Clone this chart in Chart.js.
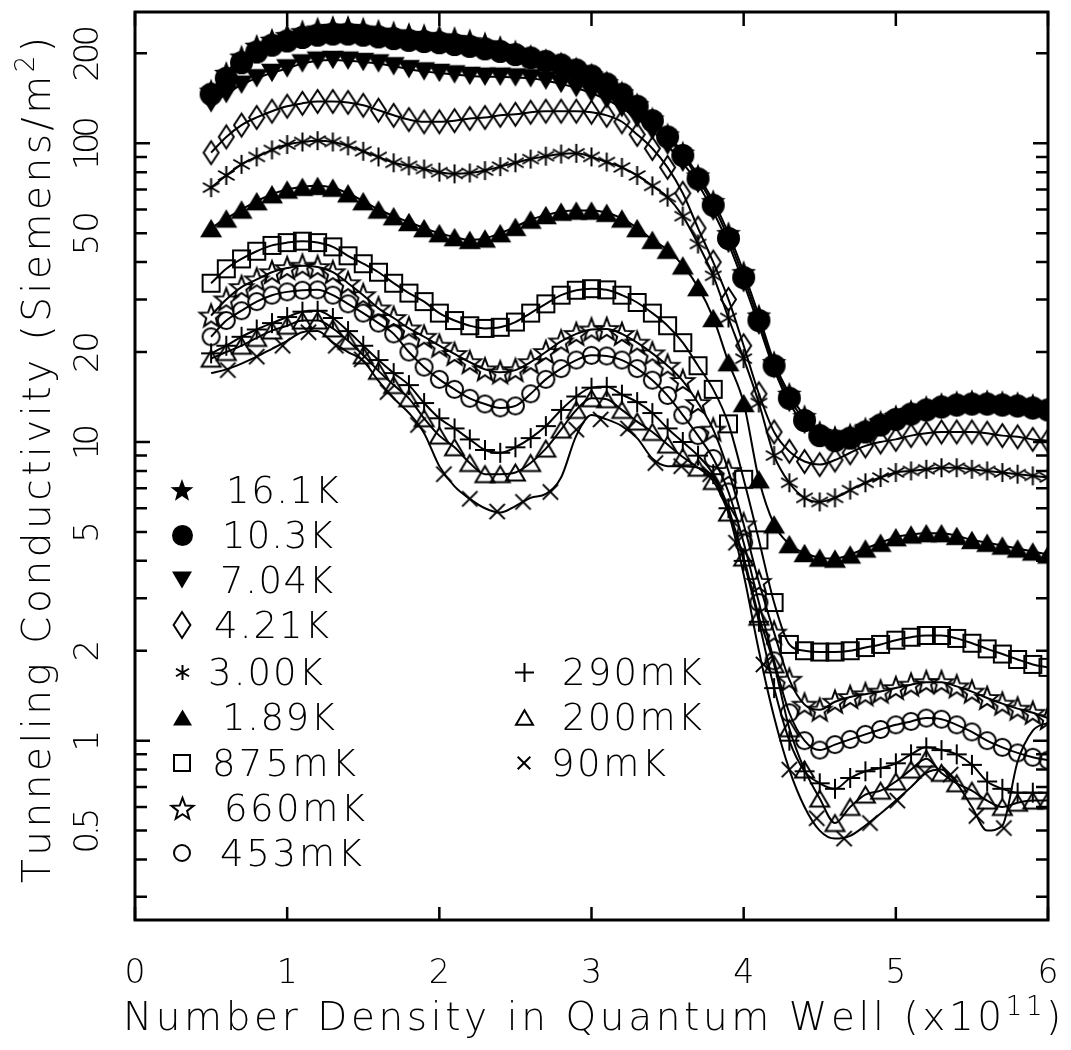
<!DOCTYPE html>
<html>
<head>
<title>Tunneling Conductivity</title>
<script src="https://cdn.jsdelivr.net/npm/chart.js"></script>
<style>
    html, body { margin:0; padding:0; background:#fff; }
    canvas { display:block; }
</style>
</head>
<body>
<canvas id="wykres" width="1071" height="1050"></canvas>
<script>
// number density in the well (x10^11), common sampling of all series
const gestosc = [0.5,0.6,0.7,0.8,0.9,1.0,1.1,1.2,1.3,1.4,1.5,1.6,1.7,1.8,1.9,2.0,2.1,2.2,2.3,2.4,
                 2.5,2.6,2.7,2.8,2.9,3.0,3.1,3.2,3.3,3.4,3.5,3.6,3.7,3.8,3.9,4.0,4.1,4.2,4.3,4.4,
                 4.5,4.6,4.7,4.8,4.9,5.0,5.1,5.2,5.3,5.4,5.5,5.6,5.7,5.8,5.9,6.0];

// tunneling conductivity (Siemens/m^2)
const k161 = [150,172,195,212,222,230,237,242,245,245, 242,238,235,232,230,228,225,221,216,210,
              203,196,190,185,178,170,160,148,135,121, 107,93,78,64,50,37,26.5,18.5,14.5,12.2,
              10.8,10.4,10.6,11.1,11.7,12.2,12.7,13.1,13.4,13.6, 13.7,13.7,13.6,13.5,13.3,13.1];
const k103 = [146,165,186,202,213,220,226,230,232,232, 230,227,224,221,219,217,214,211,207,203,
              198,193,188,183,176,168,158,146,133,119, 105,91,76,62,48,35.5,25.5,18,14,11.8,
              10.5,10.1,10.3,10.8,11.4,11.9,12.4,12.8,13.1,13.3, 13.4,13.4,13.3,13.2,13.0,12.8];
const k704 = [136,146,157,165,172,178,185,189,190,189, 187,185,181,177,174,172,170,168,167,167,
              166,165,162,158,153,147,140,131,121,110, 98,86,73,59,46,34,24.5,17.5,13.5,11.4,
              10.3,10.0,10.2,10.7,11.2,11.7,12.1,12.5,12.8,13.0, 13.1,13.1,13.0,12.9,12.7,12.5];
const k421 = [93,105,115,122,128,133,136,138,138,137, 134,129,124,120,118,118,119,121,122,124,
              125,127,128,128,128,127,124,118,107,96, 83,68,52,40,30,21,14.5,10.8,9.3,8.6,
              8.4,8.7,9.2,9.7,10.0,10.2,10.5,10.7,10.8,10.8, 10.8,10.7,10.5,10.4,10.2,10.1];
const k300 = [71,78,85,90,95,99,101,102,101,98, 94,90,86,84,82,80,79,79.5,81,83.5,
              86,88.5,90.5,92,92.5,90,86.5,83,78,72, 66,57,46,36,26,19,13.5,9.0,7.3,6.5,
              6.3,6.5,6.9,7.3,7.6,7.9,8.0,8.1,8.2,8.2, 8.1,8.0,7.9,7.8,7.7,7.6];
const k189 = [52,56,60,64,67.5,70,71.5,72,71,68, 64,60,57,54.5,52,50,48.5,47.5,48,50,
              52.5,55.5,57.5,59,59.5,59.5,58.5,56,52,47.5, 44,39,33,26,18.5,13.5,7.5,5.3,4.55,4.25,
              4.1,4.07,4.2,4.4,4.6,4.8,4.9,4.95,4.95,4.85, 4.7,4.6,4.5,4.4,4.3,4.2];
const m875 = [34,38,41,43.5,45.5,46.5,47,46.5,45,42, 39.5,37,34,31.5,29.5,27,25.5,24.5,24,24.2,
              25.2,27,29,31,32.2,32.6,32.3,31,29.3,27, 24.5,21.5,18,15,11.5,7.5,4.7,2.9,2.1,2.0,
              1.98,1.98,2.0,2.05,2.1,2.17,2.22,2.25,2.25,2.2, 2.12,2.03,1.95,1.87,1.8,1.76];
const m660 = [26.5,30,33,35,37,38.2,38.9,38.5,37,34, 31,28,26,24,22.5,21,19.7,18.5,17.5,17.1,
              17.4,18.5,20,21.7,23,23.8,23.9,23,21.5,19.8, 18,16,13.5,11,8,5.3,3.4,2.3,1.6,1.32,
              1.27,1.35,1.4,1.43,1.46,1.5,1.54,1.57,1.57,1.52, 1.46,1.39,1.33,1.28,1.24,1.19];
const m453 = [22.5,25.5,27.5,29.5,31,31.8,32.2,32.3,31,29, 27,25,23,20,17.8,16.2,15,14,13.4,13,
              13.2,14.5,16.2,17.6,18.8,19.5,19.4,18.8,17.6,16.1, 14.3,12.3,10.5,8.8,6.8,4.6,2.9,1.85,1.24,1.0,
              0.93,0.97,1.01,1.05,1.09,1.13,1.16,1.19,1.18,1.13, 1.07,1.0,0.95,0.91,0.88,0.86];
const m290 = [19.8,21,22.5,23.8,25,26.2,27.3,27.5,26,23.5, 21,18.8,17,15.5,13.5,12,11.1,10.2,9.4,9.2,
              9.6,10.3,11.3,12.8,14.2,15.2,15.3,14.4,13.6,12.5, 11.1,10.0,9.0,7.8,6.0,4.0,2.5,1.5,1.0,0.79,
              0.72,0.69,0.75,0.79,0.81,0.84,0.9,0.95,0.93,0.9, 0.83,0.73,0.69,0.67,0.67,0.67];
const m200 = [19,20,21,22.3,23.6,24.5,25.5,25.5,24,21.8, 19.5,17.3,15.5,14,12,10.5,9.6,8.5,7.8,7.8,
              7.9,8.5,9.5,11,12.8,14.0,13.9,12.8,11.7,10.8, 9.8,8.9,8.2,7.4,5.8,4.1,2.6,1.8,1.1,0.8,
              0.64,0.53,0.6,0.66,0.68,0.73,0.8,0.87,0.78,0.72, 0.68,0.63,0.6,0.62,0.63,0.63];
// 90 mK: fitted curve on the common grid, measured points are sparser
const m90linia = [17,17.5,18.3,19.3,20.5,21.8,23.3,23.5,21.5,20, 18.7,16,14,12.5,10.7,8.3,7.1,6.45,6.0,5.8,
                  6.1,6.5,6.7,7.6,10.5,12.3,11.9,11.3,10.3,8.8, 8.3,8.3,8.2,7.6,5.8,3.6,2.0,1.2,0.8,0.6,
                  0.5,0.47,0.48,0.52,0.57,0.63,0.7,0.78,0.8,0.72, 0.6,0.5,0.52,0.85,1.08,1.15];
const m90x = [0.61,0.8,0.97,1.14,1.32,1.49,1.66,1.86,2.03,2.2,2.38,2.55,2.73,2.9,3.06,
              3.24,3.42,3.59,3.78,3.95,4.13,4.3,4.48,4.66,4.83,5.01,5.19,5.36,5.53,5.71];
const m90y = [17.4,19.3,21,23.3,21,18.9,14.7,11.4,7.8,6.45,5.85,6.3,6.8,11,11.9,
              11.1,8.5,8.3,7.8,4.6,1.8,0.8,0.55,0.47,0.53,0.63,0.78,0.77,0.56,0.51];

const etykiety = ['16.1K','10.3K','7.04K','4.21K','3.00K','1.89K','875mK','660mK','453mK','290mK','200mK','90mK'];
const serie = [k161,k103,k704,k421,k300,k189,m875,m660,m453,m290,m200];

const xTicks = [0,1,2,3,4,5,6];
const xTickLabels = ['0','1','2','3','4','5','6'];
const yTicks = [0.5,1,2,5,10,20,50,100,200];
const yTickLabels = ['0.5','1','2','5','10','20','50','100','200'];
const yKreski = [0.3,0.4,0.5,0.6,0.7,0.8,0.9,1,2,3,4,5,6,7,8,9,10,20,30,40,50,60,70,80,90,100,200];

const FONT = '"DejaVu Sans ExtraLight", "DejaVu Sans", sans-serif';

// marker shape, size in plot, size in legend
const wyglad = [['starF',26,24],['circleF',23,21],['triDownF',22,20],['diamond',25,28],['asterisk',19,15],['triUpF',22,19],
                ['square',17,16],['starO',24,23],['circleO',19,18],['plus',20,19],['triUpO',19,17],['cross',17,14]];

function znacznik(typ, s)
{
    const c = document.createElement('canvas');
    c.width = c.height = Math.ceil(s + 6);
    const g = c.getContext('2d');
    const m = c.width / 2, r = s / 2;
    g.translate(m, m);
    g.lineWidth = 2;
    g.strokeStyle = '#000';
    g.fillStyle = '#000';
    g.beginPath();
    if(typ === 'starF' || typ === 'starO')
    {
        for(let i = 0; i < 10; i++)
        {
            const rr = i % 2 ? r * 0.42 : r;
            const a = -Math.PI / 2 + i * Math.PI / 5;
            g.lineTo(rr * Math.cos(a), rr * Math.sin(a) + r * 0.08);
        }
        g.closePath();
        typ === 'starF' ? g.fill() : g.stroke();
    }
    else if(typ === 'circleF' || typ === 'circleO')
    {
        g.arc(0, 0, typ === 'circleF' ? r : r - 1, 0, Math.PI * 2);
        typ === 'circleF' ? g.fill() : g.stroke();
    }
    else if(typ === 'triDownF' || typ === 'triUpF' || typ === 'triUpO')
    {
        const h = s * 0.85, d = typ === 'triDownF' ? -1 : 1;
        g.moveTo(0, -d * h / 2);
        g.lineTo(r, d * h / 2);
        g.lineTo(-r, d * h / 2);
        g.closePath();
        typ === 'triUpO' ? g.stroke() : g.fill();
    }
    else if(typ === 'diamond')
    {
        const w = s * 0.3;
        g.moveTo(0, -r + 1); g.lineTo(w, 0); g.lineTo(0, r - 1); g.lineTo(-w, 0);
        g.closePath();
        g.stroke();
    }
    else if(typ === 'square')
    {
        g.rect(-r, -r, s, s);
        g.stroke();
    }
    else if(typ === 'asterisk')
    {
        for(let i = 0; i < 3; i++)
        {
            const a = Math.PI / 2 + i * Math.PI / 3;
            g.moveTo(r * Math.cos(a), r * Math.sin(a));
            g.lineTo(-r * Math.cos(a), -r * Math.sin(a));
        }
        g.stroke();
    }
    else if(typ === 'plus')
    {
        g.moveTo(-r, 0); g.lineTo(r, 0); g.moveTo(0, -r); g.lineTo(0, r);
        g.stroke();
    }
    else if(typ === 'cross')
    {
        const q = r * 0.9;
        g.moveTo(-q, -q); g.lineTo(q, q); g.moveTo(q, -q); g.lineTo(-q, q);
        g.stroke();
    }
    return c;
}

const wykresZn = wyglad.map(w => znacznik(w[0], w[1]));
const legendaZn = wyglad.map(w => znacznik(w[0], w[2]));

function punkty(xs, ys)
{
    return xs.map((x, i) => ({x: x, y: ys[i]}));
}

let zbiory = serie.map((dane, i) => ({
    label: etykiety[i],
    data: punkty(gestosc, dane),
    borderColor: '#000',
    borderWidth: 2,
    pointStyle: wykresZn[i],
    pointRadius: 10,
    cubicInterpolationMode: 'monotone',
    fill: false
}));
zbiory.push({
    label: '90mK fit',
    data: punkty(gestosc, m90linia),
    borderColor: '#000',
    borderWidth: 2,
    pointRadius: 0,
    cubicInterpolationMode: 'monotone',
    fill: false
});
zbiory.push({
    label: etykiety[11],
    data: punkty(m90x, m90y),
    showLine: false,
    pointStyle: wykresZn[11],
    pointRadius: 10
});

// text spread to a given length, optionally rotated
function napis(ctx, czesci, x, y, dlugosc, kat)
{
    ctx.save();
    ctx.translate(x, y);
    ctx.rotate(kat || 0);
    ctx.textAlign = 'left';
    ctx.textBaseline = 'alphabetic';
    let naturalna = 0, n = 0;
    czesci.forEach(p => { ctx.font = '200 ' + p[1] + 'px ' + FONT; naturalna += ctx.measureText(p[0]).width; n += p[0].length; });
    const odstep = dlugosc ? (dlugosc - naturalna) / Math.max(n - 1, 1) : 0;
    let cx = 0;
    czesci.forEach(p => {
        ctx.font = '200 ' + p[1] + 'px ' + FONT;
        for(const ch of p[0])
        {
            ctx.fillText(ch, cx, -(p[2] || 0));
            cx += ctx.measureText(ch).width + odstep;
        }
    });
    ctx.restore();
}

// legend position: marker x, row y, text start, text end
const legendaPoz = [[182,490,226,339],[182,535,222,333],[182,580,220,333],[182,625,214,329],[182,672,208,323],
                    [182,717,222,335],[182,763,212,356],[182,808,224,365],[182,853,220,362],
                    [524,672,562,702],[524,717,562,702],[524,763,551,666]];
// length of the rotated y labels
const yDlugosc = {'0.5': 46, '10': 36, '20': 42, '50': 44, '100': 54, '200': 57};

const ramka = {
    id: 'ramka',
    afterDraw(chart)
    {
        const ctx = chart.ctx, a = chart.chartArea, sx = chart.scales.x, sy = chart.scales.y;
        ctx.save();
        ctx.strokeStyle = '#000';
        ctx.fillStyle = '#000';
        ctx.lineWidth = 2.5;
        ctx.beginPath();
        xTicks.forEach(v => {
            const p = sx.getPixelForValue(v);
            ctx.moveTo(p, a.bottom); ctx.lineTo(p, a.bottom - 13);
            ctx.moveTo(p, a.top); ctx.lineTo(p, a.top + 14);
        });
        yKreski.forEach(v => {
            const p = sy.getPixelForValue(v);
            const d = (v === 1 || v === 10 || v === 100) ? 15 : 12;
            ctx.moveTo(a.left, p); ctx.lineTo(a.left + d, p);
            ctx.moveTo(a.right, p); ctx.lineTo(a.right - d, p);
        });
        ctx.stroke();
        ctx.lineWidth = 3;
        ctx.strokeRect(a.left, a.top, a.right - a.left, a.bottom - a.top);

        // tick labels
        ctx.textAlign = 'center';
        ctx.textBaseline = 'alphabetic';
        ctx.font = '200 33px ' + FONT;
        xTicks.forEach((v, i) => ctx.fillText(xTickLabels[i], sx.getPixelForValue(v), 983));
        yTicks.forEach((v, i) => {
            const t = yTickLabels[i], py = sy.getPixelForValue(v);
            ctx.font = '200 34px ' + FONT;
            const L = yDlugosc[t] || ctx.measureText(t).width;
            napis(ctx, [[t, 34, 0]], 98, py + L / 2, t.length > 1 ? L : 0, -Math.PI / 2);
        });

        // axis titles
        napis(ctx, [['Number Density in Quantum Well (x10', 39, 0], ['11', 26, 15], [')', 39, 0]], 123, 1030, 936, 0);
        napis(ctx, [['Tunneling Conductivity (Siemens/m', 39, 0], ['2', 26, 16], [')', 39, 0]], 50, 883, 840, -Math.PI / 2);

        // legend
        legendaPoz.forEach((p, i) => {
            const z = legendaZn[i];
            ctx.drawImage(z, Math.round(p[0] - z.width / 2), Math.round(p[1] - z.height / 2));
            napis(ctx, [[etykiety[i], 37, 0]], p[2], p[1] + 13, p[3] - p[2], 0);
        });
        ctx.restore();
    }
};

new Chart(document.getElementById('wykres').getContext('2d'), {
    type: 'line',
    data: { datasets: zbiory },
    options: {
        responsive: false,
        animation: false,
        devicePixelRatio: 1,
        events: [],
        layout: { padding: { left: 135, right: 23, top: 8, bottom: 130 } },
        plugins: { legend: { display: false }, tooltip: { enabled: false } },
        scales: {
            x: { type: 'linear', min: 0, max: 6, display: false },
            y: { type: 'logarithmic', min: 0.251, max: 275, display: false }
        }
    },
    plugins: [ramka]
});
</script>
</body>
</html>
